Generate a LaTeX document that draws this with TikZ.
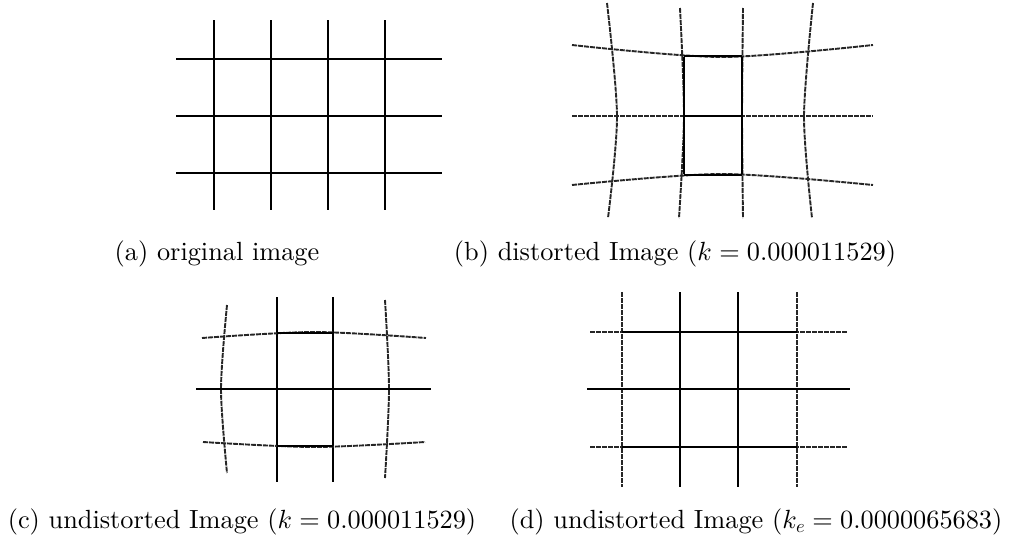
\RequirePackage{fix-cm}
\documentclass[tikz,border=0pt]{standalone}
\usepackage{fontspec}
\setmainfont{lmroman10-regular.otf}
\usepackage{tikz}
\usepackage{amsmath}
\DeclareFontShape{OT1}{cmr}{m}{n}{<->cmr10}{}
\DeclareFontShape{OML}{cmm}{m}{it}{<->cmmi10}{}

\begin{document}
\begin{tikzpicture}[
    x=1pt, y=-1pt,
    clean/.style={line width=2.5pt, line cap=butt},
    rough/.style={line width=1.9pt, black!85, dash pattern=on 5pt off 1pt},
    caption/.style={inner sep=0pt, font=\fontsize{26.3}{31}\selectfont}
]
\useasboundingbox (0,0) rectangle (1009,549);

% (a) original grid
\foreach \x in {214,271,328,385} \draw[clean] (\x,20) -- (\x,210);
\foreach \y in {59,116,173} \draw[clean] (176,\y) -- (442,\y);

% (b) distorted grid
\draw[rough] plot[smooth] coordinates {(607,3) (617,116) (608,218)};
\draw[rough] plot[smooth] coordinates {(680,8) (684,116) (679,218)};
\draw[rough] plot[smooth] coordinates {(743,8) (742,116) (743,218)};
\draw[rough] plot[smooth] coordinates {(813,3) (804,116) (812,218)};
\draw[rough] plot[smooth] coordinates {(572,45) (722,57) (873,45)};
\draw[rough] (572,116) -- (873,116);
\draw[rough] plot[smooth] coordinates {(572,185) (722,174) (873,185)};
\draw[clean] (684,57) -- (684,174);
\draw[clean] (742,57) -- (742,174);
\draw[clean] (684,116) -- (742,116);
\draw[clean] (684,56) -- (742,56);
\draw[clean] (684,175) -- (742,175);

% (c) undistorted with k
\draw[rough] plot[smooth] coordinates {(227,305) (221,389) (227,473)};
\draw[clean, line width=2pt] (277,297) -- (277,482);
\draw[clean, line width=2pt] (333,297) -- (333,482);
\draw[rough] plot[smooth] coordinates {(385,300) (389,389) (385,478)};
\draw[rough] plot[smooth] coordinates {(202,338) (314,332) (426,338)};
\draw[clean] (196,389) -- (431,389);
\draw[rough] plot[smooth] coordinates {(203,442) (314,447) (425,442)};
\draw[clean, line width=2pt] (277,333) -- (333,333);
\draw[clean, line width=2pt] (277,446) -- (333,446);

% (d) undistorted with k_e
\foreach \x in {622,797} \draw[rough] (\x,292) -- (\x,487);
\foreach \x in {680,738} \draw[clean] (\x,292) -- (\x,487);
\foreach \y in {332,447} {
  \draw[rough] (590,\y) -- (847,\y);
  \draw[clean, line width=2pt] (622,\y) -- (797,\y);
}
\draw[clean] (587,389) -- (850,389);

% captions
\node[caption] (cap-a) at (217,254) {(a) original image};
\node[caption] (cap-b) at (675,254) {(b) distorted Image ($k = 0.000011529$)};
\node[caption] (cap-c) at (242,522) {(c) undistorted Image ($k = 0.000011529$)};
\node[caption] (cap-d) at (756,522) {(d) undistorted Image ($k_e = 0.0000065683$)};
\end{tikzpicture}
\end{document}
